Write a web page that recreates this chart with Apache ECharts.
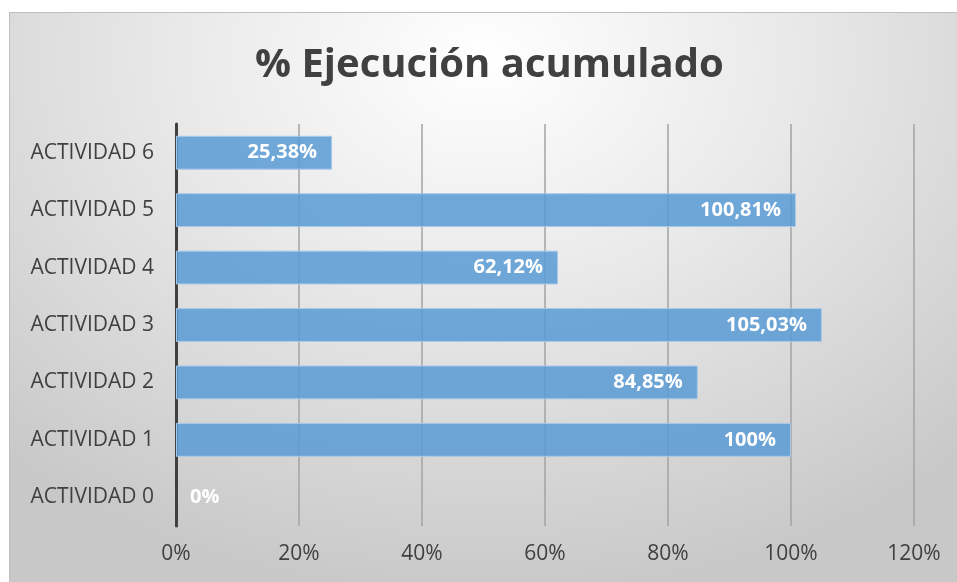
<!DOCTYPE html>
<html>
<head>
<meta charset="utf-8">
<script src="https://cdn.jsdelivr.net/npm/echarts@6/dist/echarts.min.js"></script>
<style>
  html, body { margin: 0; padding: 0; background: #fff; }
  #chart {
    position: absolute;
    left: 9px;
    top: 12px;
    width: 948px;
    height: 570px;
    border-top: 1px solid #bfbfbf;
    border-left: 1px solid #bfbfbf;
    box-sizing: border-box;
    background: radial-gradient(ellipse 75% 95% at 50% 8%, #ffffff 0%, #e8e8e8 45%, #c8c8c8 100%);
  }
</style>
</head>
<body>
<div id="chart"></div>
<script>
// --- Data ---
const titleText = '% Ejecución acumulado';
const categories = ['ACTIVIDAD 0', 'ACTIVIDAD 1', 'ACTIVIDAD 2', 'ACTIVIDAD 3', 'ACTIVIDAD 4', 'ACTIVIDAD 5', 'ACTIVIDAD 6'];
const values = [0, 100, 84.85, 105.03, 62.12, 100.81, 25.38];
const xTicks = [0, 20, 40, 60, 80, 100, 120];

const FONT = '"Open Sans", sans-serif';
const TEXT_COLOR = '#404040';

// Excel style: comma decimals, no decimals on whole numbers
function fmtPct(v) {
  if (Number.isInteger(v)) return v + '%';
  return v.toFixed(2).replace('.', ',') + '%';
}

const seriesData = values.map((v) => {
  const item = { value: v };
  if (v === 0) {
    // empty bar: label sits just right of the axis, no border stub
    item.label = { position: 'right', distance: 14 };
    item.itemStyle = { borderWidth: 0 };
  }
  return item;
});

const chart = echarts.init(document.getElementById('chart'));

chart.setOption({
  animation: false,
  textStyle: { fontFamily: FONT },
  title: {
    text: titleText,
    left: 240,
    top: 28,
    textStyle: {
      fontFamily: FONT,
      fontSize: 40,
      fontWeight: 'bold',
      color: TEXT_COLOR,
    },
  },
  grid: {
    left: 166,
    right: 43,
    top: 111,
    bottom: 56,
  },
  xAxis: {
    type: 'value',
    min: xTicks[0],
    max: xTicks[xTicks.length - 1],
    interval: xTicks[1] - xTicks[0],
    axisLine: { show: false },
    axisTick: { show: false },
    axisLabel: {
      formatter: (v) => v + '%',
      color: TEXT_COLOR,
      fontSize: 21,
      fontFamily: FONT,
      margin: 18,
    },
    splitLine: {
      show: true,
      lineStyle: { color: '#a3a3a3', width: 1.5 },
    },
  },
  yAxis: {
    type: 'category',
    data: categories,
    axisLine: {
      show: true,
      lineStyle: { color: '#404040', width: 3 },
    },
    axisTick: { show: false },
    axisLabel: {
      color: TEXT_COLOR,
      fontSize: 21,
      fontFamily: FONT,
      margin: 22,
    },
  },
  series: [
    {
      type: 'bar',
      data: seriesData,
      barWidth: '59%',
      itemStyle: {
        color: 'rgba(91,155,213,0.86)',
        borderColor: '#a9c9e8',
        borderWidth: 1,
      },
      label: {
        show: true,
        position: 'insideRight',
        distance: 15,
        formatter: (p) => fmtPct(p.value),
        color: '#ffffff',
        fontSize: 20,
        fontWeight: 'bold',
        fontFamily: FONT,
      },
    },
  ],
});
</script>
</body>
</html>
